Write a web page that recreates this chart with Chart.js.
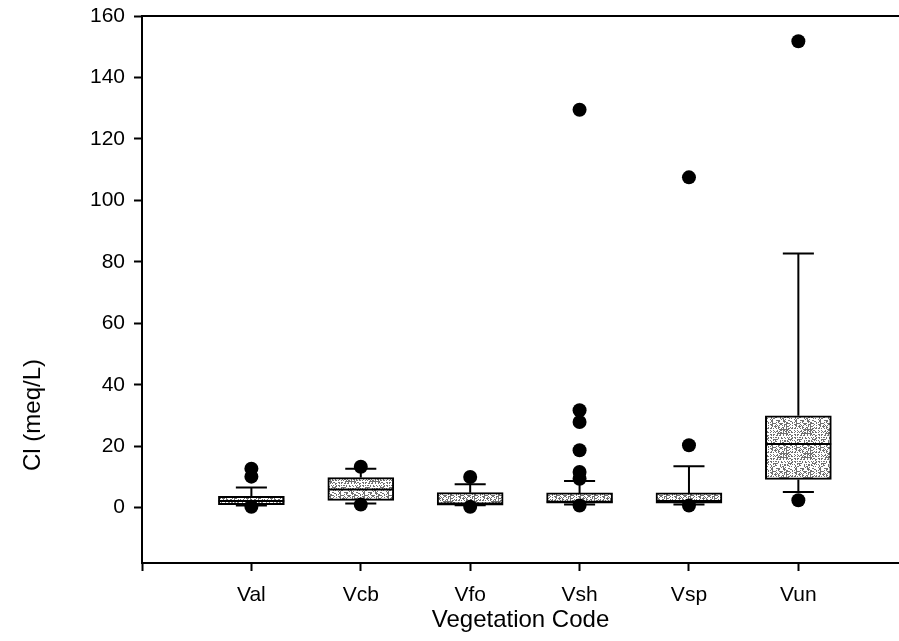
<!DOCTYPE html>
<html>
<head>
<meta charset="utf-8">
<script src="https://cdn.jsdelivr.net/npm/chart.js@4.4.1/dist/chart.umd.min.js"></script>
<style>
  html, body { margin: 0; padding: 0; background: #fff; overflow: hidden; }
  #wrap { position: relative; width: 899px; height: 641px; }
  #ytitle {
    position: absolute; left: 32px; top: 415px;
    transform: translate(-50%, -50%) rotate(-90deg);
    font: 24px "Liberation Sans", Arial, sans-serif; color: #000; white-space: nowrap;
  }
</style>
</head>
<body>
<div id="wrap">
  <canvas id="chart" width="899" height="641"></canvas>
  <div id="ytitle">Cl (meq/L)</div>
</div>
<script>
// Cl by vegetation code (box = 25th-75th, whiskers, outlying points)
const categories = ['Val', 'Vcb', 'Vfo', 'Vsh', 'Vsp', 'Vun'];
const q1 = [1.0, 2.4, 0.8, 1.5, 1.5, 9.2];
const median = [2.2, 5.9, 1.4, 1.9, 2.2, 20.7];
const q3 = [3.7, 9.8, 4.9, 4.8, 4.8, 29.9];
const lowerWhisker = [0.7, 1.4, 0.8, 1.0, 1.0, 5.1];
const upperWhisker = [6.6, 12.7, 7.6, 8.7, 13.5, 82.7];
const outliers = [
  [12.7, 10.1, 0.3],
  [13.3, 1.0],
  [10.0, 0.3],
  [129.5, 31.7, 27.9, 18.7, 11.6, 9.4, 0.7],
  [107.5, 20.3, 0.7],
  [151.8, 2.4]
];
const yTicks = [0, 20, 40, 60, 80, 100, 120, 140, 160];

const FONT = '"Liberation Sans", Arial, sans-serif';
const BOX_HALF = 0.3;   // in category units
const CAP_HALF = 0.142;

// stippled fill like the printed original (fixed hash, not data)
function stipple() {
  const n = 24;
  const c = document.createElement('canvas');
  c.width = n; c.height = n;
  const p = c.getContext('2d');
  p.fillStyle = '#ffffff';
  p.fillRect(0, 0, n, n);
  p.fillStyle = '#707070';
  for (let y = 0; y < n; y++) {
    for (let x = 0; x < n; x++) {
      const h = (x * 374761 + y * 668265 + x * y * 2654435) % 1000;
      if (h % 97 < 38) p.fillRect(x, y, 1, 1);
    }
  }
  return document.getElementById('chart').getContext('2d').createPattern(c, 'repeat');
}

const boxData = categories.map((c, i) => ({ x: i + 1, y: [q1[i], q3[i]] }));

const medianData = [];
categories.forEach((c, i) => {
  medianData.push({ x: i + 1 - BOX_HALF, y: median[i] }, { x: i + 1 + BOX_HALF, y: median[i] }, { x: i + 1, y: null });
});

const whiskerData = [];
categories.forEach((c, i) => {
  const x = i + 1;
  whiskerData.push({ x: x, y: q3[i] }, { x: x, y: upperWhisker[i] }, { x: x, y: null });
  whiskerData.push({ x: x - CAP_HALF, y: upperWhisker[i] }, { x: x + CAP_HALF, y: upperWhisker[i] }, { x: x, y: null });
  whiskerData.push({ x: x, y: q1[i] }, { x: x, y: lowerWhisker[i] }, { x: x, y: null });
  whiskerData.push({ x: x - CAP_HALF, y: lowerWhisker[i] }, { x: x + CAP_HALF, y: lowerWhisker[i] }, { x: x, y: null });
});

const pointData = [];
outliers.forEach((list, i) => list.forEach(v => pointData.push({ x: i + 1, y: v })));

const noSidePad = axis => { axis.paddingLeft = 0; axis.paddingRight = 0; };

new Chart(document.getElementById('chart'), {
  type: 'bar',
  data: {
    datasets: [
      {
        type: 'scatter', data: pointData, order: 0,
        pointRadius: 7, pointBackgroundColor: '#000', pointBorderWidth: 0
      },
      {
        type: 'line', data: medianData, order: 1,
        borderColor: '#000', borderWidth: 2, pointRadius: 0, spanGaps: false
      },
      {
        type: 'bar', data: boxData, order: 2,
        backgroundColor: stipple(), borderColor: '#000', borderWidth: 2,
        borderSkipped: false, barThickness: 66
      },
      {
        type: 'line', data: whiskerData, order: 3,
        borderColor: '#000', borderWidth: 2, pointRadius: 0, spanGaps: false
      }
    ]
  },
  options: {
    responsive: false,
    animation: false,
    layout: { padding: 0, autoPadding: false },
    plugins: { legend: { display: false }, tooltip: { enabled: false } },
    scales: {
      x: {
        type: 'linear', position: 'bottom', min: 0, max: 6.92, offset: false,
        afterBuildTicks: axis => { axis.ticks = [0, 1, 2, 3, 4, 5, 6].map(v => ({ value: v })); },
        afterFit: axis => { axis.height = 78; noSidePad(axis); },
        ticks: {
          autoSkip: false, maxRotation: 0, padding: 12, color: '#000',
          font: { family: FONT, size: 21 },
          callback: v => (v >= 1 && v <= 6 ? categories[v - 1] : '')
        },
        grid: { display: true, drawOnChartArea: false, drawTicks: true, tickLength: 8, tickWidth: 2, tickColor: '#000', offset: false },
        border: { display: true, color: '#000', width: 2 },
        title: { display: true, text: 'Vegetation Code', color: '#000', font: { family: FONT, size: 24 }, padding: { top: 0, bottom: 6 } }
      },
      xTop: {
        type: 'linear', position: 'top', min: 0, max: 6.92,
        afterFit: axis => { axis.height = 16; noSidePad(axis); },
        ticks: { display: false },
        grid: { display: false },
        border: { display: true, color: '#000', width: 2 }
      },
      y: {
        type: 'linear', min: -18, max: 160,
        afterBuildTicks: axis => { axis.ticks = yTicks.map(v => ({ value: v })); },
        afterFit: axis => { axis.width = 142; axis.paddingTop = 0; axis.paddingBottom = 0; },
        ticks: { padding: 9, color: '#000', font: { family: FONT, size: 21 } },
        grid: { display: true, drawOnChartArea: false, drawTicks: true, tickLength: 8, tickWidth: 2, tickColor: '#000' },
        border: { display: true, color: '#000', width: 2 }
      }
    }
  }
});
</script>
</body>
</html>
